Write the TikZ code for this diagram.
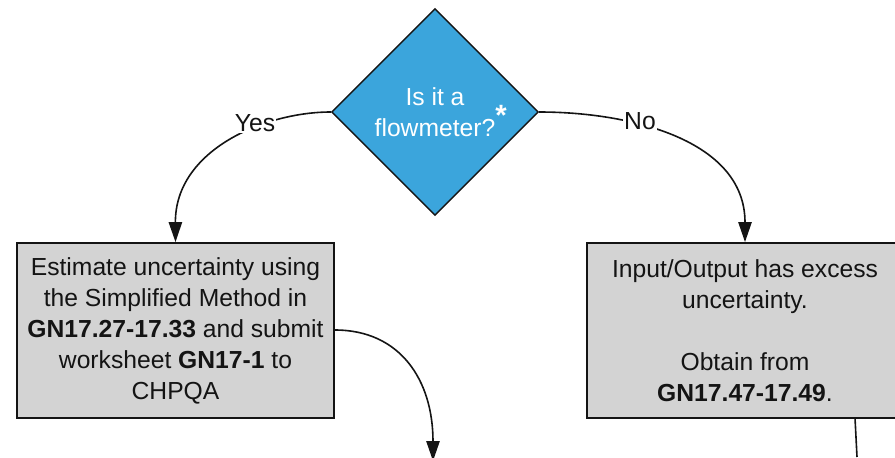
\documentclass[tikz,border=0pt]{standalone}
\usepackage{fontspec}
\setmainfont{Liberation Sans}
\usepackage{tikz}
\usetikzlibrary{positioning,arrows.meta,shapes.geometric}
\definecolor{qBlue}{RGB}{59,165,220}
\definecolor{qGray}{RGB}{211,211,211}
\definecolor{qInk}{RGB}{20,20,20}
\tikzset{
    base/.style={font=\fontsize{18.5}{23.25}\selectfont, align=center},
    decision/.style={base, diamond, aspect=1, draw=qInk, line width=1.1pt,
                     fill=qBlue, text=white, inner sep=0pt,
                     minimum width=155.25pt, minimum height=155.25pt},
    process/.style={base, rectangle, draw=qInk, line width=1.4pt, fill=qGray,
                    text=qInk, inner sep=0pt, minimum height=131.25pt},
    flow/.style={-{Triangle[length=15pt,width=10pt]}, line width=1.2pt, color=qInk},
    answer/.style={base, fill=white, text=qInk, inner sep=1pt}
}

\begin{document}
\begin{tikzpicture}[x=0.75pt,y=-0.75pt]
  \useasboundingbox (0,0) rectangle (895,457);
  \clip (0,0) rectangle (895,457);

  % Question
  \node[decision] (meter) at (435,112) {Is it a\\flowmeter?};
  \node[font=\fontsize{22}{22}\selectfont\bfseries, text=white, anchor=base,
        inner sep=0pt] (star) at (501,125) {*};

  % Outcomes
  \node[process, minimum width=237.75pt] (simple) at (175.5,330.5)
    {Estimate uncertainty using\\the Simplified Method in\\
     \textbf{GN17.27-17.33} and submit\\worksheet \textbf{GN17-1} to\\CHPQA};
  \node[process, minimum width=237pt] (excess) at (745,330.5)
    {Input/Output has excess\\uncertainty.\\[23.25pt]Obtain from\\
     \textbf{GN17.47-17.49}.};

  % Off-page ends
  \coordinate (nextL) at (433,461);
  \coordinate (nextR) at (857,457);

  \draw[flow] (meter.west) .. controls (265,112) and (175,150) .. (simple.north);
  \draw[flow] (meter.east) .. controls (630,112) and (745,140) .. (excess.north);
  \draw[flow] (simple.east |- 0,330) .. controls (400,330) and (433,380) .. (nextL);
  \draw[line width=1.2pt, color=qInk] (855,418) -- (nextR);

  \node[answer] (yes) at (255,123) {Yes};
  \node[answer] (no) at (640,121) {No};
\end{tikzpicture}
\end{document}
